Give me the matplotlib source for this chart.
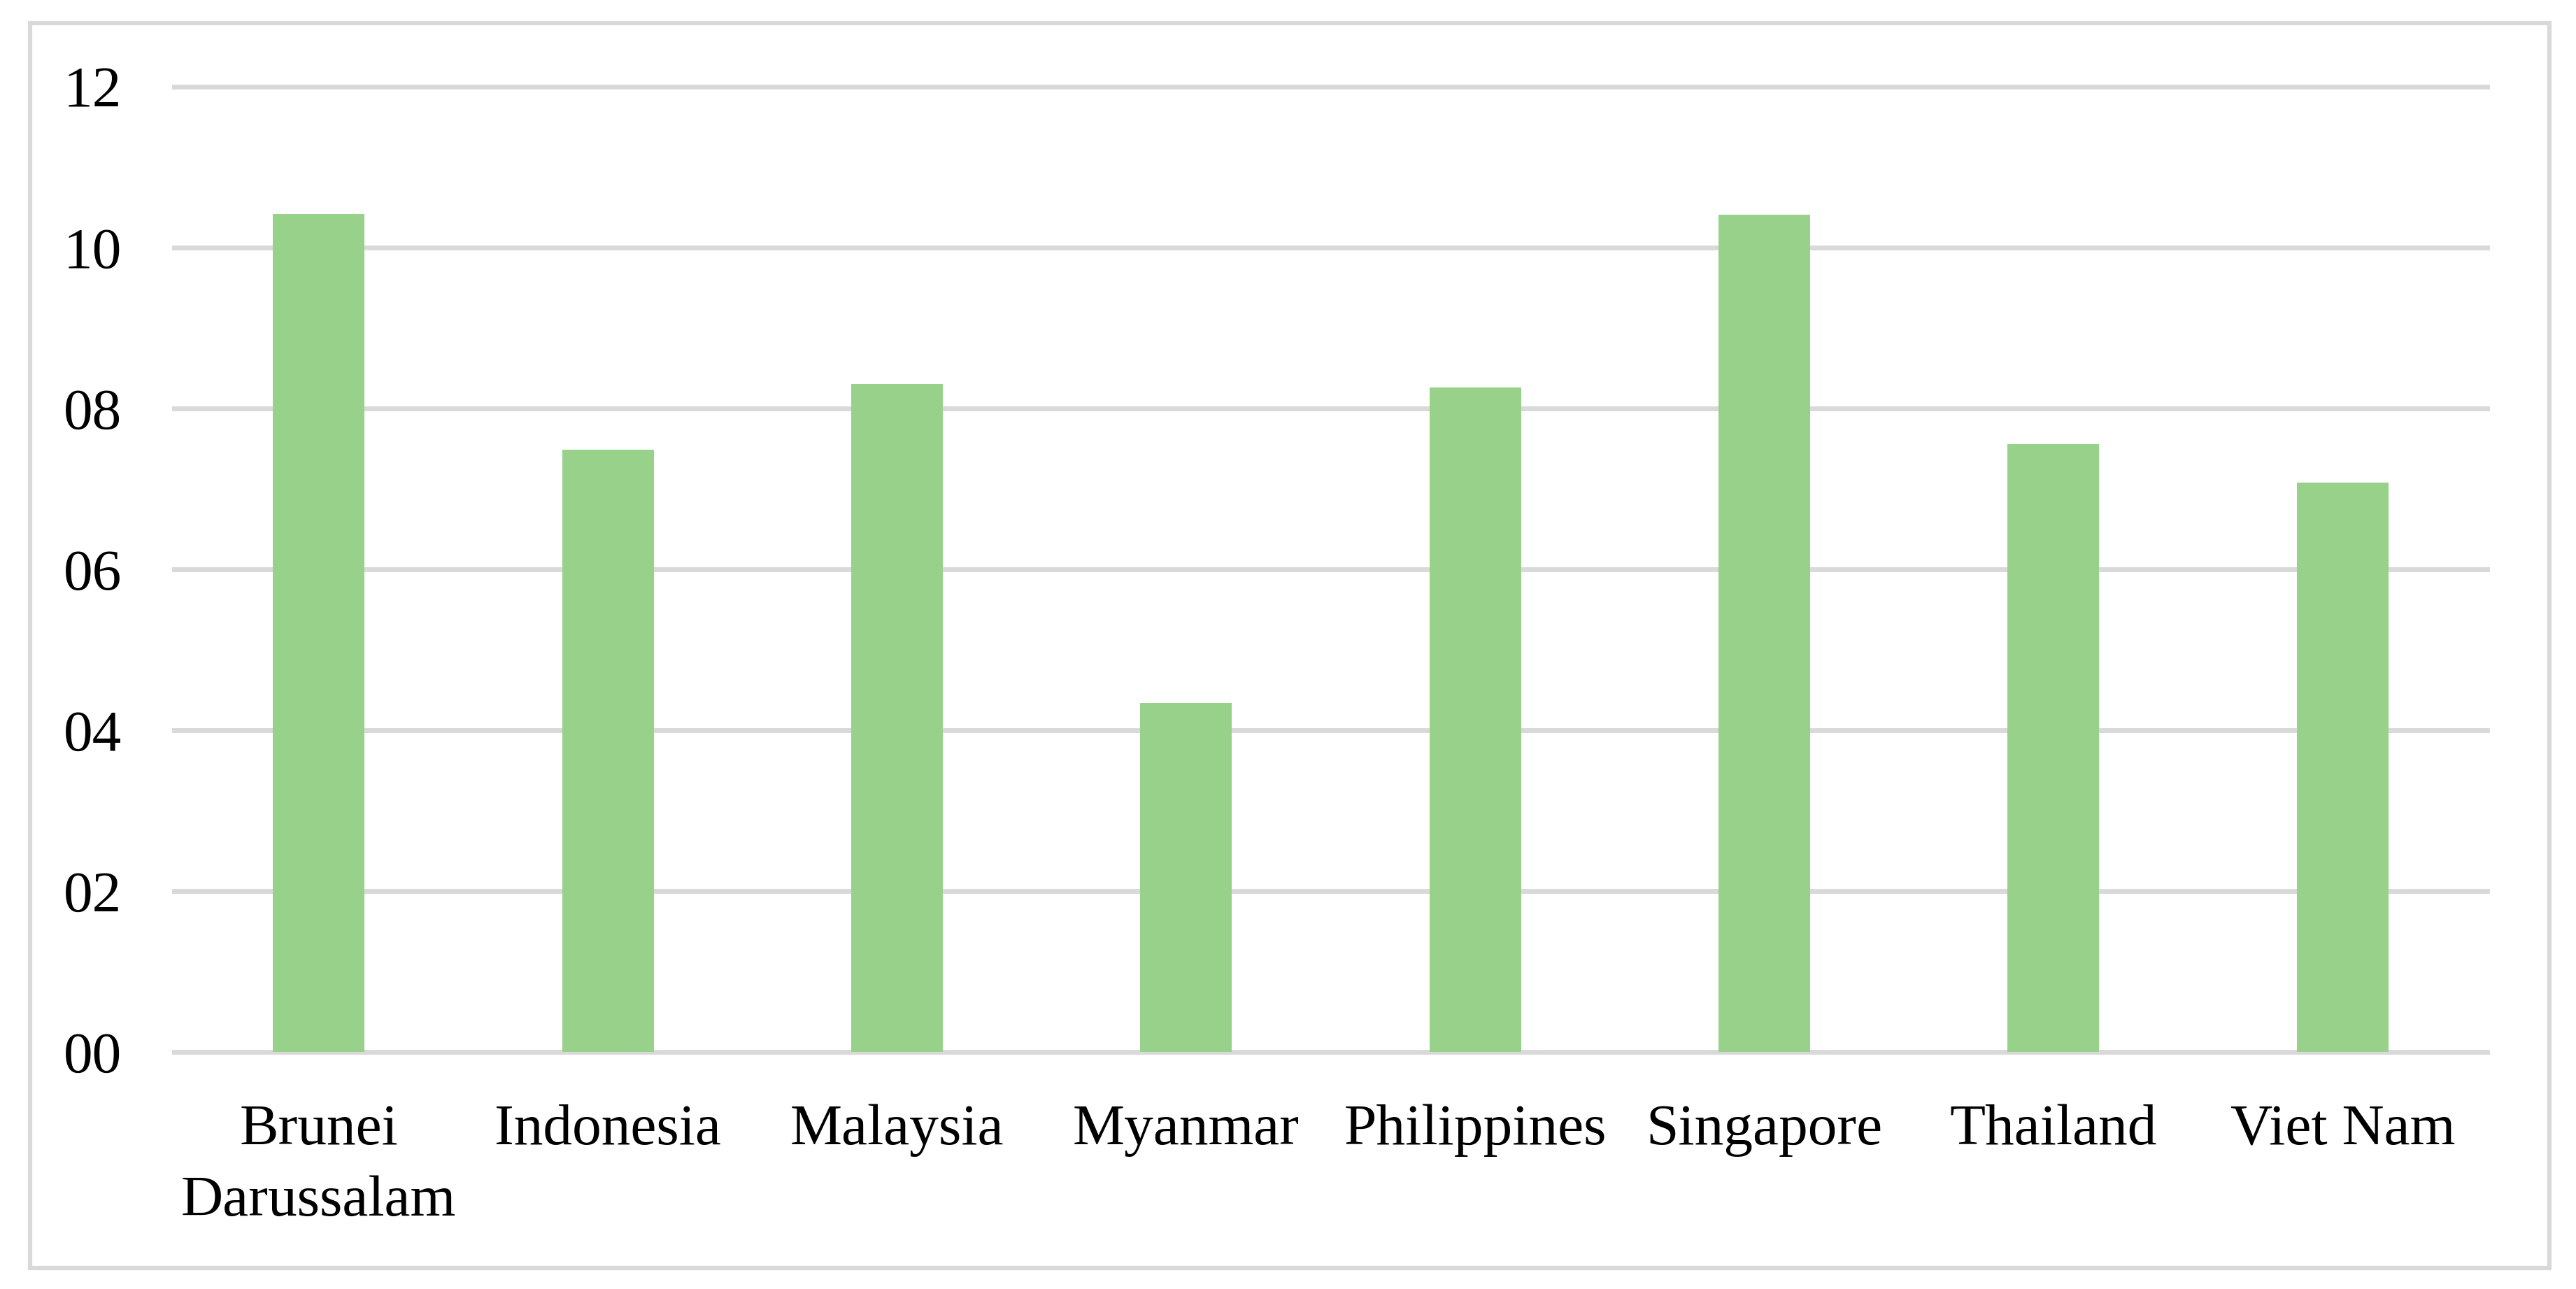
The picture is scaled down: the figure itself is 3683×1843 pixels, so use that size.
import matplotlib
matplotlib.use('Agg')
import matplotlib.pyplot as plt
from matplotlib.patches import Rectangle
import numpy as np

# data
countries = ['Brunei\nDarussalam', 'Indonesia', 'Malaysia', 'Myanmar',
             'Philippines', 'Singapore', 'Thailand', 'Viet Nam']
values = [10.42, 7.49, 8.30, 4.34, 8.26, 10.41, 7.56, 7.08]
y_ticks = [0, 2, 4, 6, 8, 10, 12]

bar_color = '#98d28a'
grid_color = '#d9d9d9'

plt.rcParams['font.family'] = ['Liberation Serif', 'DejaVu Serif']

fig = plt.figure(figsize=(36.83, 18.43), dpi=100)
ax = fig.add_axes([0.0676, 0.18394, 0.8979, 0.74878])

x = np.arange(len(countries))
ax.bar(x, values, width=0.317, color=bar_color, zorder=3)

# axes look
ax.set_xlim(-0.5, len(countries) - 0.5)
ax.set_ylim(0, 12)
ax.set_yticks(y_ticks)
ax.set_yticklabels(['%02d' % t for t in y_ticks])
ax.set_xticks(x)
ax.set_xticklabels(countries, linespacing=1.45)
ax.tick_params(axis='both', length=0, labelsize=60, colors='black')
ax.tick_params(axis='y', pad=54)
ax.tick_params(axis='x', pad=54)

for s in ax.spines.values():
    s.set_visible(False)

ax.yaxis.grid(True, color=grid_color, linewidth=5.0, zorder=0)
ax.xaxis.grid(False)
ax.set_axisbelow(True)
for line in ax.get_ygridlines():
    line.set_clip_on(False)

# outer frame around the chart
fig.patches.append(Rectangle((0.01168, 0.01628), 0.978, 0.96581,
                             transform=fig.transFigure, fill=False,
                             edgecolor=grid_color, linewidth=4.5))

fig.savefig('out.png', dpi=100, facecolor='white')
